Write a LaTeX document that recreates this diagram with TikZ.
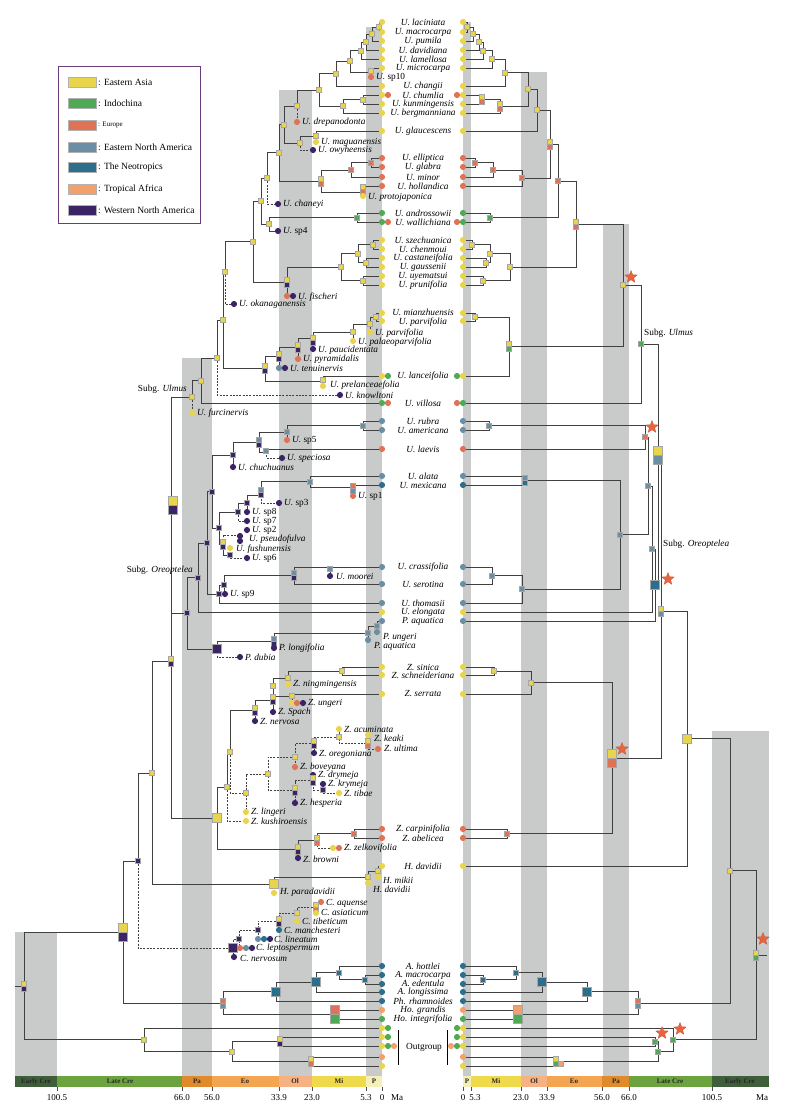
\documentclass[tikz,border=0pt]{standalone}
\usepackage{fontspec}
\setmainfont{Liberation Serif}
\usetikzlibrary{shapes.geometric}
\definecolor{cEA}{HTML}{E9D54B}
\definecolor{cIC}{HTML}{4FAA55}
\definecolor{cEU}{HTML}{E07256}
\definecolor{cENA}{HTML}{6A8EA3}
\definecolor{cNT}{HTML}{2D6E8C}
\definecolor{cTA}{HTML}{F3A06B}
\definecolor{cWNA}{HTML}{3A2466}
\definecolor{cBand}{HTML}{C9CACA}
\definecolor{cStar}{HTML}{E8643F}
\definecolor{tEC}{HTML}{3F5E3A}
\definecolor{tLC}{HTML}{6BA33F}
\definecolor{tPa}{HTML}{E08A2C}
\definecolor{tEo}{HTML}{F4A551}
\definecolor{tOl}{HTML}{F7B284}
\definecolor{tMi}{HTML}{EEDA4B}
\definecolor{tP}{HTML}{F5F0B8}
\definecolor{cLeg}{HTML}{6A3D7A}
\newcommand\xcl[5]{\draw[br] (#3,#2) -| (#1,#4) -- (#5,#4);}
\newcommand\xsq[3]{\node[sqs,fill=#3] at (#1,#2) {};}
\newcommand\xsqq[4]{\node[sqs,fill=#3] at (#1,#2-2.5) {};\node[sqs,fill=#4] at (#1,#2+2.5) {};}
\newcommand\xbig[3]{\node[sqb,fill=#3] at (#1,#2) {};}
\newcommand\xbigg[4]{\node[sqb,fill=#3] at (#1,#2-4.5) {};\node[sqb,fill=#4] at (#1,#2+4.5) {};}
\newcommand\xdot[3]{\node[dot,fill=#3] at (#1,#2) {};}
\newcommand\xfl[3]{\node[flab] at (#1,#2) {#3};}
\newcommand\xtl[2]{\node[tlab] at (423,#1) {#2};}
\newcommand\xst[2]{\node[strm] at (#1,#2) {};}
\tikzset{
 br/.style={draw=black!75,line width=0.85pt},
 fos/.style={draw=black!75,line width=0.75pt,dash pattern=on 2pt off 1.3pt},
 sqs/.style={rectangle,minimum size=5pt,inner sep=0pt,draw=black!35,line width=0.25pt},
 sqb/.style={rectangle,minimum size=9pt,inner sep=0pt,draw=black!35,line width=0.25pt},
 dot/.style={circle,minimum size=6.2pt,inner sep=0pt},
 tlab/.style={font=\fontsize{9.3}{10}\selectfont\itshape,inner sep=0pt},
 flab/.style={anchor=west,font=\fontsize{9.3}{10}\selectfont,inner sep=0pt},
 strm/.style={star,star points=5,star point ratio=2.3,minimum size=13pt,inner sep=0pt,fill=cStar,draw=cStar!85!black,line width=0.3pt},
 band/.style={fill=cBand},
 tb/.style={font=\fontsize{7}{8}\selectfont\bfseries,text=black!85},
 tk/.style={font=\fontsize{9}{10}\selectfont},
 legsw/.style={draw=black!30,line width=0.3pt},
 legtx/.style={anchor=west,font=\fontsize{9.5}{10}\selectfont,inner sep=0pt},
}
\begin{document}
\begin{tikzpicture}[x=1pt,y=-1pt]
\useasboundingbox (0,0) rectangle (788,1117);
% ---------- grey bands
\fill[band] (366,27) rectangle (382,1076);
\fill[band] (279,90) rectangle (312,1076);
\fill[band] (182,358) rectangle (212,1076);
\fill[band] (15,932) rectangle (57,1076);
\fill[band] (463,22) rectangle (471,1076);
\fill[band] (521,72) rectangle (547,1076);
\fill[band] (603,224) rectangle (629,1076);
\fill[band] (712,731) rectangle (769,1076);
% ---------- time bars
\fill[tEC] (15,1076) rectangle (57,1087);
\fill[tLC] (57,1076) rectangle (182,1087);
\fill[tPa] (182,1076) rectangle (212,1087);
\fill[tEo] (212,1076) rectangle (279,1087);
\fill[tOl] (279,1076) rectangle (312,1087);
\fill[tMi] (312,1076) rectangle (366,1087);
\fill[tP] (366,1076) rectangle (382,1087);
\fill[tP] (463,1076) rectangle (471,1087);
\fill[tMi] (471,1076) rectangle (521,1087);
\fill[tOl] (521,1076) rectangle (547,1087);
\fill[tEo] (547,1076) rectangle (602,1087);
\fill[tPa] (602,1076) rectangle (629,1087);
\fill[tLC] (629,1076) rectangle (712,1087);
\fill[tEC] (712,1076) rectangle (769,1087);
\node[tb] (b1) at (36,1081.5) {Early Cre};
\node[tb] (b2) at (120,1081.5) {Late Cre};
\node[tb] (b3) at (197,1081.5) {Pa};
\node[tb] (b4) at (245,1081.5) {Eo};
\node[tb] (b5) at (295,1081.5) {Ol};
\node[tb] (b6) at (339,1081.5) {Mi};
\node[tb] (b7) at (374,1081.5) {P};
\node[tb] (b8) at (467,1081.5) {P};
\node[tb] (b9) at (496,1081.5) {Mi};
\node[tb] (b10) at (534,1081.5) {Ol};
\node[tb] (b11) at (574,1081.5) {Eo};
\node[tb] (b12) at (616,1081.5) {Pa};
\node[tb] (b13) at (670,1081.5) {Late Cre};
\node[tb] (b14) at (740,1081.5) {Early Cre};
\foreach \t in {57,182,212,279,312,366,382,463,471,521,547,602,629,712}
  {\draw[black!70,line width=0.5pt] (\t,1087) -- (\t,1091);}
\node[tk] (k1) at (57,1098) {100.5};
\node[tk] (k2) at (182,1098) {66.0};
\node[tk] (k3) at (212,1098) {56.0};
\node[tk] (k4) at (279,1098) {33.9};
\node[tk] (k5) at (312,1098) {23.0};
\node[tk] (k6) at (366,1098) {5.3};
\node[tk] (k7) at (382,1098) {0};
\node[tk] (k8) at (397,1098) {Ma};
\node[tk] (k9) at (463,1098) {0};
\node[tk] (k10) at (475,1098) {5.3};
\node[tk] (k11) at (521,1098) {23.0};
\node[tk] (k12) at (547,1098) {33.9};
\node[tk] (k13) at (602,1098) {56.0};
\node[tk] (k14) at (629,1098) {66.0};
\node[tk] (k15) at (712,1098) {100.5};
\node[tk] (k16) at (762,1098) {Ma};
% ================= LEFT TREE: branches
\xcl{379}{22}{382}{32}{382}
\xcl{372}{27}{379}{41}{382}
\xcl{366}{34}{372}{50}{382}
\xcl{361}{42}{366}{59}{382}
\draw[br] (382,68) -| (371,74);
\xcl{350}{50.5}{361}{72}{371}
\xcl{336}{61}{350}{86}{382}
\xcl{363}{95}{382}{104}{382}
\xcl{343}{99.5}{363}{113}{382}
\xcl{319}{73.5}{336}{106}{343}
\draw[br] (319,90) -| (297,106); \draw[fos] (297,106) -- (297,119);
\draw[br] (382,131) -| (316,139);
\draw[br] (316,136) -| (300,143); \draw[fos] (300,143) |- (310,150);
\xcl{284}{106}{297}{143}{300}
\xcl{371}{158}{382}{167}{382}
\xcl{351}{162.5}{371}{177}{382}
\draw[br] (382,186) -| (363,193);
\xcl{321}{170}{351}{192}{363}
\xcl{279}{124.5}{284}{181}{321}
\draw[br] (279,152.75) -| (267,178); \draw[fos] (267,178) |- (275,204);
\xcl{357}{213}{382}{222}{382}
\draw[br] (357,217.5) -| (269,231) -- (275,231);
\xcl{261}{178}{267}{224}{269}
\xcl{373}{240}{382}{249}{382}
\xcl{366}{258}{382}{267}{382}
\xcl{358}{244.5}{373}{262.5}{366}
\xcl{363}{276}{382}{285}{382}
\xcl{341}{253.5}{358}{280.5}{363}
\draw[br] (341,267) -| (287,293);
\xcl{253}{201}{261}{282}{287}
\draw[br] (253,241.5) -| (225,272); \draw[fos] (225,272) |- (231,304);
\xcl{376}{313}{382}{321}{382}
\draw[br] (376,317) -| (370,329);
\draw[br] (370,324) -| (353,338);
\draw[br] (353,332) -| (313,346);
\draw[br] (313,338) -| (298,356);
\draw[br] (298,347) -| (279,365);
\draw[br] (382,376) -| (323,384);
\xcl{265}{356}{279}{381}{323}
\xcl{223}{272}{225}{368.5}{265}
\draw[br] (223,320) -| (217,358); \draw[fos] (217,358) |- (337,395);
\xcl{201}{358}{217}{403}{382}
\draw[br] (201,380.5) -| (192,397); \draw[fos] (192,397) -- (192,410);
% Oreoptelea
\xcl{363}{421}{382}{430}{382}
\draw[br] (363,425.5) -| (287,437);
\draw[br] (382,449) -| (266,452); \draw[fos] (266,452) |- (279,458);
\xcl{259}{432}{287}{452}{266}
\draw[br] (259,442) -| (233,464);
\draw[br] (382,485) -| (353,493);
\xcl{310}{476}{382}{487}{353}
\draw[br] (310,481.5) -| (261,492); \draw[fos] (261,492) |- (276,503);
\draw[br] (261,495) -| (247,509);
\draw[br] (247,503) -| (238,512); \draw[fos] (238,512) |- (244,521);
\draw[fos] (223,544) |- (240,535);
\draw[br] (223,544) |- (230,555); \draw[fos] (230,555) |- (244,558);
\xcl{219}{512}{238}{544}{223}
\xcl{212}{455}{233}{528}{219}
\draw[br] (382,567) -| (330,573);
\xcl{294}{567}{330}{584}{382}
\draw[br] (294,575.5) -| (224,594);
\xcl{219}{585}{224}{603}{382}
\xcl{207}{491.5}{212}{594}{219}
\xcl{198}{543}{207}{612}{382}
\draw[br] (382,621) -| (377,630);
\draw[br] (377,626) -| (368,637);
\draw[br] (368,633) -| (274,645);
\draw[br] (274,641) -| (217,649); \draw[fos] (217,649) |- (237,657);
\xcl{187}{577.5}{198}{649}{217}
\xcl{171}{397}{192}{613}{187}
% Zelkova
\xcl{342}{667}{382}{675}{382}
\draw[br] (342,671) -| (288,681);
\draw[br] (382,694) -| (292,700);
\draw[br] (288,678) -| (273,709);
\draw[br] (273,696) -- (292,696);
\draw[br] (273,700) -| (255,718);
\draw[br] (255,710) -| (230,752);
\draw[fos] (230,752) |- (246,793);
\draw[br] (230,752) -| (227,787);
\draw[fos] (227,787) |- (243,821);
\draw[br] (227,787) -| (217,849.5) -- (298,849.5);
\draw[fos] (268,774) -| (246,809);
\draw[fos] (295,757) -| (268,790.5) -- (295,790.5);
\draw[fos] (314,743.5) -| (295,764);
\draw[fos] (339,737) -| (314,750);
\draw[fos] (339,732) -- (339,743) -- (368,743);
\draw[fos] (368,746) |- (375,749);
\draw[fos] (313,780.5) -| (295,800);
\draw[fos] (313,777) |- (323,790);
\draw[fos] (323,790) |- (336,793);
\xcl{354}{829}{382}{838}{382}
\draw[br] (354,833.5) -| (317,842); \draw[fos] (317,842) |- (330,848);
\draw[br] (317,840) -| (298,855);
% Hemiptelea
\draw[br] (382,866) -| (378,874);
\draw[br] (378,871) -| (368,880);
\draw[br] (368,877) -| (274,889);
\xcl{171}{505}{171}{818}{217}
\xcl{152}{661.5}{171}{884}{274}
% Cedrelospermum
\draw[fos] (316,907) -| (297,918);
\draw[fos] (297,913) -| (279,927);
\draw[fos] (279,921) -| (258,936);
\draw[fos] (258,930) -| (239,945);
\draw[fos] (239,939) -| (233,954);
\draw[br] (152,773) -| (138,861); \draw[fos] (138,861) |- (228,948);
% Ampelocera etc.
\xcl{365}{975}{382}{984}{382}
\xcl{339}{966}{382}{979.5}{365}
\xcl{316}{972.75}{339}{992}{382}
\xcl{276}{982}{316}{1001}{382}
\xcl{335}{1010}{382}{1019}{382}
\xcl{223}{991.5}{276}{1014.5}{335}
\xcl{123}{861}{138}{1003}{223}
% outgroup and root
\xcl{280}{1037}{382}{1046}{382}
\xcl{311}{1057}{382}{1066}{382}
\xcl{232}{1041.5}{280}{1061.5}{311}
\xcl{144}{1028}{382}{1051.5}{232}
\xcl{24}{932}{123}{1039.75}{144}
\draw[br] (15,986) -- (24,986);
% ================= RIGHT TREE: branches
\xcl{467}{22}{463}{32}{463}
\xcl{473}{27}{467}{41}{463}
\xcl{479}{34}{473}{50}{463}
\xcl{483}{42}{479}{59}{463}
\xcl{492}{50.5}{483}{68}{463}
\xcl{505}{59}{492}{86}{463}
\xcl{482}{95}{463}{104}{463}
\xcl{500}{99.5}{482}{113}{463}
\xcl{528}{72.5}{505}{106}{500}
\xcl{537}{89}{528}{131}{463}
\xcl{475}{158}{463}{167}{463}
\xcl{493}{162.5}{475}{177}{463}
\xcl{522}{170}{493}{186}{463}
\xcl{550}{110}{537}{178}{522}
\xcl{490}{213}{463}{222}{463}
\xcl{558}{144}{550}{217.5}{490}
\xcl{472}{240}{463}{249}{463}
\xcl{486}{258}{463}{267}{463}
\xcl{490}{244.5}{472}{262.5}{486}
\xcl{483}{276}{463}{285}{463}
\xcl{510}{253.5}{490}{280.5}{483}
\xcl{576}{181}{558}{267}{510}
\xcl{475}{313}{463}{321}{463}
\xcl{509}{317}{475}{376}{463}
\xcl{623}{224}{576}{346.5}{509}
\xcl{641}{285}{623}{403}{463}
\xcl{489}{421}{463}{430}{463}
\xcl{645}{425.5}{489}{449}{463}
\xcl{525}{476}{463}{485}{463}
\xcl{492}{567}{463}{584}{463}
\xcl{522}{575.5}{492}{603}{463}
\xcl{620}{480.5}{525}{589}{522}
\xcl{648}{437}{645}{534.75}{620}
\xcl{652}{486}{648}{612}{463}
\xcl{655}{549}{652}{621}{463}
\xcl{658}{344}{641}{585}{655}
\xcl{494}{667}{463}{675}{463}
\xcl{531}{671}{494}{694}{463}
\xcl{507}{829}{463}{838}{463}
\xcl{612}{682.5}{531}{833.5}{507}
\xcl{661}{464.5}{658}{758}{612}
\xcl{687}{611}{661}{866}{463}
\xcl{483}{975}{463}{984}{463}
\xcl{516}{966}{463}{979.5}{483}
\xcl{542}{972.75}{516}{992}{463}
\xcl{587}{982}{542}{1001}{463}
\xcl{518}{1010}{463}{1019}{463}
\xcl{638}{991.5}{587}{1014.5}{518}
\xcl{730}{738.5}{687}{1003}{638}
\xcl{556}{1057}{463}{1066}{463}
\xcl{655}{1037}{463}{1046}{463}
\xcl{658}{1041.5}{655}{1061.5}{556}
\xcl{673}{1028}{463}{1051.5}{658}
\xcl{756}{870.75}{730}{1039.75}{673}
\draw[br] (756,955) -- (767,955);
% ================= LEFT markers
\xsq{379}{27}{cEA}\xsq{372}{34}{cEA}\xsq{366}{42}{cEA}\xsq{361}{50.5}{cEA}
\xsq{371}{71}{cEA}\xdot{371}{77}{cEU}
\xsq{350}{61}{cEA}\xsq{336}{73.5}{cEA}\xsq{363}{99.5}{cEA}\xsq{343}{106}{cEA}\xsq{319}{90}{cEA}
\xsq{297}{106}{cEA}\xdot{297}{122}{cEU}
\xsq{316}{136}{cEA}\xdot{316}{142}{cEA}
\xsq{300}{143}{cEA}\xdot{313}{150}{cWNA}
\xsq{284}{124.5}{cEA}
\xsq{371}{162.5}{cEU}\xsq{351}{170}{cEU}
\xsqq{363}{189}{cEA}{cEU}\xdot{363}{196}{cEA}
\xsqq{321}{181}{cEA}{cEU}
\xsq{279}{152.75}{cEA}
\xsq{267}{178}{cEA}\xdot{278}{204}{cWNA}
\xsq{357}{217.5}{cIC}
\xsq{269}{224}{cEA}\xdot{278}{231}{cWNA}
\xsq{261}{201}{cEA}
\xsq{373}{244.5}{cEA}\xsq{366}{262.5}{cEA}\xsq{358}{253.5}{cEA}\xsq{363}{280.5}{cEA}\xsq{341}{267}{cEA}
\xsqq{287}{282}{cEA}{cWNA}\xdot{287}{296}{cEU}\xdot{293}{296}{cWNA}
\xsq{253}{241.5}{cEA}
\xsq{225}{272}{cEA}\xdot{234}{304}{cWNA}
\xsq{376}{317}{cEA}
\xsq{370}{324}{cEA}\xdot{370}{332}{cEA}
\xsq{353}{332}{cEA}\xdot{353}{341}{cEA}
\xsqq{313}{340}{cEA}{cWNA}\xdot{313}{349}{cWNA}
\xsqq{298}{347}{cEA}{cWNA}\xdot{298}{359}{cEU}
\xsqq{279}{356}{cEA}{cWNA}\xdot{279}{368}{cENA}\xdot{285}{368}{cWNA}
\xsq{323}{380}{cEA}\xdot{323}{386}{cEA}
\xsqq{265}{368.5}{cEA}{cWNA}
\xsq{223}{320}{cEA}
\xsq{217}{358}{cEA}\xdot{340}{395}{cWNA}
\xsq{201}{380.5}{cEA}
\xsq{192}{397}{cEA}\xdot{192}{413}{cEA}
\xbigg{173}{505}{cEA}{cWNA}
\xsq{363}{425.5}{cENA}
\xsq{287}{432}{cENA}\xdot{287}{440}{cEU}
\xsq{266}{451}{cENA}\xdot{282}{458}{cWNA}
\xsqq{259}{442}{cENA}{cWNA}
\xsq{233}{455}{cWNA}\xdot{233}{467}{cWNA}
\xsqq{353}{488}{cEU}{cENA}\xdot{353}{496}{cEU}
\xsq{310}{481.5}{cENA}
\xsqq{261}{492}{cENA}{cWNA}\xdot{279}{503}{cWNA}
\xsq{247}{503}{cWNA}\xdot{247}{512}{cWNA}
\xsq{238}{512}{cWNA}\xdot{247}{521}{cWNA}
\xdot{247}{530}{cWNA}\xdot{240}{536}{cWNA}\xdot{240}{541}{cWNA}
\xsqq{223}{544}{cEA}{cWNA}
\xdot{230}{548}{cEA}\xsq{230}{555}{cWNA}\xdot{247}{558}{cWNA}
\xsq{219}{528}{cWNA}\xsq{212}{491.5}{cWNA}
\xsq{330}{569}{cENA}\xdot{330}{576}{cWNA}
\xsqq{294}{575.5}{cENA}{cWNA}
\xsq{224}{585}{cWNA}
\xsq{219}{594}{cWNA}\xdot{225}{594}{cWNA}
\xsq{207}{543}{cWNA}\xsq{198}{577.5}{cWNA}
\xsq{377}{626}{cENA}\xdot{377}{632}{cENA}
\xsq{368}{633}{cENA}\xdot{368}{640}{cENA}
\xsqq{274}{641}{cENA}{cWNA}\xdot{274}{648}{cWNA}
\xbig{217}{649}{cWNA}\xdot{240}{657}{cWNA}
\xsq{187}{613}{cWNA}
\xsq{342}{671}{cEA}
\xsq{288}{678}{cEA}\xdot{288}{684}{cEA}
\xsq{292}{696}{cEA}\xdot{292}{703}{cEA}\xdot{297}{703}{cEU}\xdot{303}{703}{cWNA}
\xsq{273}{686}{cEA}\xsqq{273}{699.5}{cEA}{cWNA}\xdot{273}{712}{cWNA}
\xsqq{255}{710.5}{cEA}{cWNA}\xdot{255}{721}{cWNA}
\xdot{339}{729}{cEA}\xsq{339}{737}{cEA}
\xdot{368}{735}{cEA}\xsqq{368}{743}{cEA}{cEU}\xdot{378}{749}{cEU}
\xsqq{314}{743.5}{cEA}{cWNA}\xdot{314}{753}{cWNA}
\xsq{295}{757}{cEA}\xdot{295}{767}{cEU}
\xdot{313}{775}{cWNA}\xsqq{313}{780.5}{cEA}{cWNA}
\xdot{323}{784}{cWNA}\xsq{323}{790}{cWNA}\xdot{339}{793}{cEA}
\xsqq{295}{790.5}{cEA}{cWNA}\xdot{295}{803}{cWNA}
\xsq{268}{774}{cEA}
\xsq{246}{793}{cEA}\xdot{246}{812}{cEA}
\xsq{230}{752}{cEA}\xsq{227}{787}{cEA}\xdot{246}{821}{cEA}
\xbig{217}{818}{cEA}
\xsq{354}{833.5}{cEU}
\xsqq{317}{840}{cEA}{cEU}\xdot{333}{848}{cEA}\xdot{339}{848}{cEU}
\xsqq{298}{849.5}{cEA}{cWNA}\xdot{298}{858}{cWNA}
\xsq{378}{871}{cEA}\xdot{378}{877}{cEA}
\xsq{368}{877}{cEA}\xdot{368}{883}{cEA}
\xbig{274}{884}{cEA}\xdot{274}{893}{cEA}
\xsq{152}{773}{cEA}
\xsqq{171}{661.5}{cEA}{cWNA}
\xdot{321}{902}{cEU}\xsqq{316}{907}{cEA}{cEU}\xdot{316}{913}{cEA}
\xsq{297}{913}{cEA}\xdot{297}{921}{cEA}
\xsqq{279}{921}{cEA}{cWNA}\xdot{279}{930}{cNT}
\xsq{258}{930}{cWNA}\xdot{258}{939}{cENA}\xdot{264}{939}{cNT}\xdot{270}{939}{cWNA}
\xsq{239}{939}{cWNA}
\xbig{233}{948}{cWNA}\xdot{240}{948}{cEU}\xdot{246}{948}{cENA}\xdot{252}{948}{cWNA}\xdot{234}{957}{cWNA}
\xsq{138}{861}{cWNA}
\xsq{365}{979.5}{cNT}\xsq{339}{972.75}{cNT}\xbig{316}{982}{cNT}\xbig{276}{991.5}{cNT}
\xbigg{335}{1014.5}{cEU}{cIC}
\xsqq{223}{1003}{cEU}{cENA}
\xbigg{123}{932}{cEA}{cWNA}
\xsqq{280}{1041.5}{cEA}{cWNA}\xsqq{311}{1061.5}{cEA}{cEU}\xsq{232}{1051.5}{cEA}\xsq{144}{1039.75}{cEA}
\xsqq{24}{986}{cEA}{cWNA}
% left tip dots
\foreach \y in {22,32,41,50,59,68,86,95,104,113,131,240,249,258,267,276,285,313,321,376,612,667,675,694,866,1028,1037,1046,1066}{\xdot{382}{\y}{cEA}}
\foreach \y in {158,167,177,186,449,829,838}{\xdot{382}{\y}{cEU}}
\foreach \y in {213,222,403,1019}{\xdot{382}{\y}{cIC}}
\foreach \y in {421,430,476,567,584,603,621}{\xdot{382}{\y}{cENA}}
\foreach \y in {485,966,975,984,992,1001}{\xdot{382}{\y}{cNT}}
\foreach \y in {1010,1057}{\xdot{382}{\y}{cTA}}
\xdot{388}{95}{cEU}\xdot{388}{222}{cEU}\xdot{388}{376}{cIC}\xdot{388}{403}{cEU}
\xdot{388}{1028}{cIC}\xdot{388}{1037}{cIC}\xdot{388}{1046}{cIC}\xdot{394}{1046}{cTA}
% ================= RIGHT markers
\xsq{467}{27}{cEA}\xsq{473}{34}{cEA}\xsq{479}{42}{cEA}\xsq{483}{50.5}{cEA}\xsq{492}{59}{cEA}\xsq{505}{72.5}{cEA}
\xsqq{482}{99.5}{cEA}{cEU}\xsqq{500}{106}{cEA}{cEU}\xsq{528}{89}{cEA}\xsq{537}{110}{cEA}
\xsq{475}{162.5}{cEU}\xsq{493}{170}{cEU}\xsq{522}{178}{cEU}
\xsqq{550}{144}{cEA}{cEU}\xsq{490}{217.5}{cIC}\xsq{558}{181}{cEU}
\xsq{472}{244.5}{cEA}\xsq{486}{262.5}{cEA}\xsq{490}{253.5}{cEA}\xsq{483}{280.5}{cEA}\xsq{510}{267}{cEA}
\xsqq{576}{224}{cEA}{cEU}\xsq{475}{317}{cEA}\xsqq{509}{346.5}{cEA}{cIC}
\xsq{623}{285}{cEA}\xsq{641}{344}{cIC}
\xsq{489}{425.5}{cENA}\xsq{645}{437}{cEU}\xsqq{525}{480.5}{cENA}{cNT}
\xsq{492}{575.5}{cENA}\xsq{522}{589}{cENA}\xsq{620}{534.75}{cENA}\xsq{648}{486}{cENA}\xsq{652}{549}{cENA}
\xbig{655}{585}{cNT}
\xbigg{658}{455}{cEA}{cENA}
\xsq{494}{671}{cEA}\xsq{531}{682.5}{cEA}\xsq{507}{833.5}{cEU}
\xbigg{612}{758}{cEA}{cEU}
\xsqq{661}{611}{cEA}{cENA}
\xbig{687}{738.5}{cEA}
\xsq{483}{979.5}{cNT}\xsq{516}{972.75}{cNT}\xbig{542}{982}{cNT}\xbig{587}{991.5}{cNT}
\xbigg{518}{1014.5}{cTA}{cIC}
\xsqq{638}{1003}{cEU}{cENA}
\xsq{730}{870.75}{cEA}
\xsqq{556}{1061.5}{cEA}{cIC}\node[sqs,fill=cTA] at (561,1064) {};
\xsq{655}{1041.5}{cIC}\xsq{658}{1051.5}{cIC}\xsq{673}{1039.75}{cIC}
\xsqq{756}{955}{cEA}{cIC}
% right tip dots
\foreach \y in {22,32,41,50,59,68,86,95,104,113,131,240,249,258,267,276,285,313,321,376,612,667,675,694,866,1028,1037,1046,1066}{\xdot{463}{\y}{cEA}}
\foreach \y in {158,167,177,186,449,829,838}{\xdot{463}{\y}{cEU}}
\foreach \y in {213,222,403,1019}{\xdot{463}{\y}{cIC}}
\foreach \y in {421,430,476,567,584,603,621}{\xdot{463}{\y}{cENA}}
\foreach \y in {485,966,975,984,992,1001}{\xdot{463}{\y}{cNT}}
\foreach \y in {1010,1057}{\xdot{463}{\y}{cTA}}
\xdot{457}{95}{cEU}\xdot{457}{222}{cEU}\xdot{457}{376}{cIC}\xdot{457}{403}{cEU}
\xdot{457}{1028}{cIC}\xdot{457}{1037}{cIC}\xdot{457}{1046}{cIC}\xdot{451}{1046}{cTA}
% stars
\xst{631}{277}\xst{652}{427}\xst{668}{579}\xst{622}{749}\xst{763}{939}\xst{680}{1029}\xst{662}{1033}
% ================= tip labels
\xtl{22}{U. laciniata}\xtl{32}{U. macrocarpa}\xtl{41}{U. pumila}\xtl{50}{U. davidiana}
\xtl{59}{U. lamellosa}\xtl{68}{U. microcarpa}\xtl{86}{U. changii}\xtl{95}{U. chumlia}
\xtl{104}{U. kunmingensis}\xtl{113}{U. bergmanniana}\xtl{131}{U. glaucescens}
\xtl{158}{U. elliptica}\xtl{167}{U. glabra}\xtl{177}{U. minor}\xtl{186}{U. hollandica}
\xtl{213}{U. androssowii}\xtl{222}{U. wallichiana}\xtl{240}{U. szechuanica}\xtl{249}{U. chenmoui}
\xtl{258}{U. castaneifolia}\xtl{267}{U. gaussenii}\xtl{276}{U. uyematsui}\xtl{285}{U. prunifolia}
\xtl{312}{U. mianzhuensis}\xtl{322}{U. parvifolia}\xtl{376}{U. lanceifolia}\xtl{403}{U. villosa}
\xtl{421}{U. rubra}\xtl{430}{U. americana}\xtl{449}{U. laevis}\xtl{476}{U. alata}\xtl{485}{U. mexicana}
\xtl{567}{U. crassifolia}\xtl{584}{U. serotina}\xtl{603}{U. thomasii}\xtl{612}{U. elongata}\xtl{621}{P. aquatica}
\xtl{667}{Z. sinica}\xtl{675}{Z. schneideriana}\xtl{694}{Z. serrata}\xtl{829}{Z. carpinifolia}\xtl{838}{Z. abelicea}
\xtl{866}{H. davidii}\xtl{966}{A. hottlei}\xtl{975}{A. macrocarpa}\xtl{983.5}{A. edentula}\xtl{992.5}{A. longissima}
\xtl{1001}{Ph. rhamnoides}\xtl{1010}{Ho. grandis}\xtl{1019}{Ho. integrifolia}
\node[flab,anchor=center] (og) at (424,1047) {Outgroup};
\draw[black,line width=1pt] (398,1030) -- (398,1065);
\draw[black,line width=1pt] (447,1030) -- (447,1065);
% ================= fossil labels
\xfl{376}{77}{\textit{U.} sp10}
\xfl{302}{122}{\textit{U. drepanodonta}}
\xfl{321}{142}{\textit{U. maguanensis}}
\xfl{318}{150.5}{\textit{U. owyheensis}}
\xfl{368}{197}{\textit{U. protojaponica}}
\xfl{283}{204}{\textit{U. chaneyi}}
\xfl{283}{231}{\textit{U.} sp4}
\xfl{298}{297}{\textit{U. fischeri}}
\xfl{239}{304.5}{\textit{U. okanaganensis}}
\xfl{375}{333}{\textit{U. parvifolia}}
\xfl{358}{342}{\textit{U. palaeoparvifolia}}
\xfl{318}{350}{\textit{U. paucidentata}}
\xfl{303}{359}{\textit{U. pyramidalis}}
\xfl{290}{368.5}{\textit{U. tenuinervis}}
\xfl{330}{385}{\textit{U. prelanceaefolia}}
\xfl{345}{395}{\textit{U. knowltoni}}
\xfl{197}{413}{\textit{U. furcinervis}}
\xfl{292}{440}{\textit{U.} sp5}
\xfl{287}{458}{\textit{U. speciosa}}
\xfl{238}{467}{\textit{U. chuchuanus}}
\xfl{358}{496}{\textit{U.} sp1}
\xfl{284}{503}{\textit{U.} sp3}
\xfl{252}{512}{\textit{U.} sp8}
\xfl{252}{521}{\textit{U.} sp7}
\xfl{252}{530}{\textit{U.} sp2}
\xfl{249}{539}{\textit{U. pseudofulva}}
\xfl{236}{549}{\textit{U. fushunensis}}
\xfl{252}{558.5}{\textit{U.} sp6}
\xfl{336}{576}{\textit{U. moorei}}
\xfl{230}{594}{\textit{U.} sp9}
\xfl{383}{637}{\textit{P. ungeri}}
\xfl{374}{646}{\textit{P. aquatica}}
\xfl{279}{648.5}{\textit{P. longifolia}}
\xfl{245}{657}{\textit{P. dubia}}
\xfl{293}{684}{\textit{Z. ningmingensis}}
\xfl{308}{703}{\textit{Z. ungeri}}
\xfl{278}{712}{\textit{Z. Spach}}
\xfl{260}{722}{\textit{Z. nervosa}}
\xfl{344}{729}{\textit{Z. acuminata}}
\xfl{374}{738}{\textit{Z. keaki}}
\xfl{384}{748}{\textit{Z. ultima}}
\xfl{319}{754}{\textit{Z. oregoniana}}
\xfl{300}{767}{\textit{Z. boveyana}}
\xfl{318}{775}{\textit{Z. drymeja}}
\xfl{328}{784}{\textit{Z. krymeja}}
\xfl{344}{793}{\textit{Z. tibae}}
\xfl{300}{803}{\textit{Z. hesperia}}
\xfl{251}{812}{\textit{Z. lingeri}}
\xfl{251}{821}{\textit{Z. kushiroensis}}
\xfl{344}{848}{\textit{Z. zelkovifolia}}
\xfl{303}{859}{\textit{Z. browni}}
\xfl{383}{880}{\textit{H. mikii}}
\xfl{373}{889}{\textit{H. davidii}}
\xfl{280}{892.5}{\textit{H. paradavidii}}
\xfl{326}{903}{\textit{C. aquense}}
\xfl{321}{912}{\textit{C. asiaticum}}
\xfl{302}{921}{\textit{C. tibeticum}}
\xfl{284}{930}{\textit{C. manchesteri}}
\xfl{274}{939}{\textit{C. lineatum}}
\xfl{256}{948}{\textit{C. leptospermum}}
\xfl{240}{958}{\textit{C. nervosum}}
% subgenus labels
\node[flab,anchor=east] (su1) at (187,389) {Subg. \textit{Ulmus}};
\node[flab,anchor=east] (so1) at (193,570) {Subg. \textit{Oreoptelea}};
\node[flab] (su2) at (644,333) {Subg. \textit{Ulmus}};
\node[flab] (so2) at (663,544) {Subg. \textit{Oreoptelea}};
% ================= legend
\draw[cLeg,line width=1pt,fill=white] (58,66) rectangle (200,223);
\foreach \c/\y in {cEA/82,cIC/103,cEU/125,cENA/147,cNT/167,cTA/189,cWNA/210}
  {\fill[\c] (68,\y-5) rectangle (96,\y+5); \draw[legsw] (68,\y-5) rectangle (96,\y+5);}
\node[legtx] (l1) at (98,82) {: Eastern Asia};
\node[legtx] (l2) at (98,103) {: Indochina};
\node[legtx,font=\fontsize{7}{8}\selectfont] (l3) at (98,125) {: Europe};
\node[legtx] (l4) at (98,147) {: Eastern North America};
\node[legtx] (l5) at (98,167) {: The Neotropics};
\node[legtx] (l6) at (98,189) {: Tropical Africa};
\node[legtx] (l7) at (98,210) {: Western North America};
\end{tikzpicture}
\end{document}
